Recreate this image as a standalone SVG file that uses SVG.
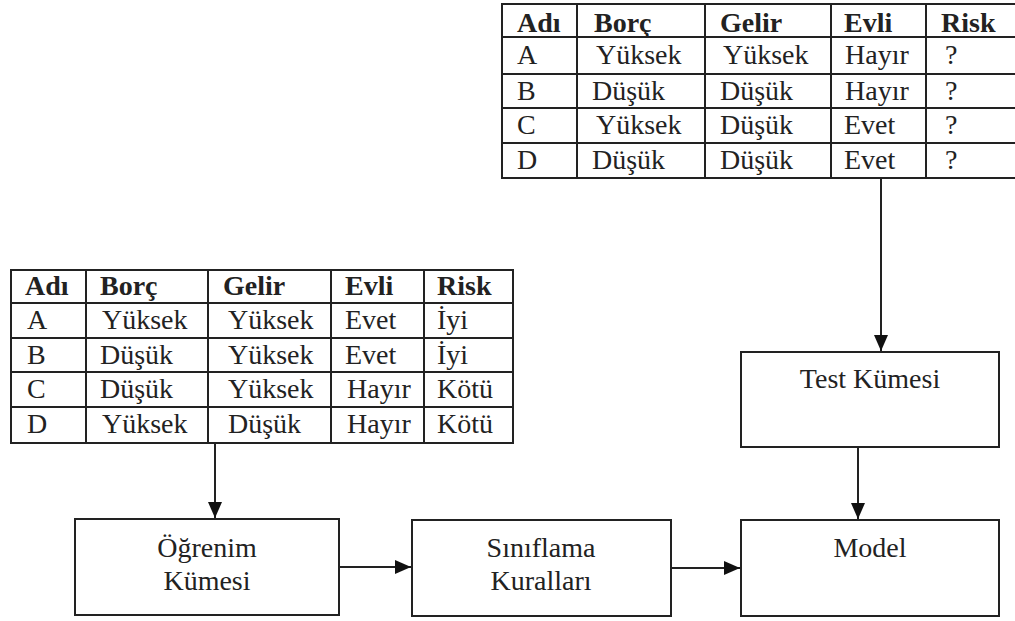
<svg xmlns="http://www.w3.org/2000/svg" width="1015" height="621" viewBox="0 0 1015 621">
<defs>
<style>
.t{font-family:"Liberation Serif","Times New Roman",serif;font-size:28px;fill:#222}
.h{font-weight:bold}
.c{text-anchor:middle}
.ln{stroke:#222;stroke-width:2;fill:none}
.box{stroke:#222;stroke-width:2;fill:#fff}
</style>
<marker id="ah" markerUnits="userSpaceOnUse" markerWidth="16" markerHeight="14" viewBox="0 0 16 14" refX="16" refY="7" orient="auto">
<path d="M0,0 L16,7 L0,14 Z" fill="#111"/>
</marker>
</defs>
<rect width="1015" height="621" fill="#fff"/>

<g id="test-table">
<rect class="ln" x="502" y="4" width="520" height="174"/>
<path class="ln" d="M577,4V178M705,4V178M831,4V178M926,4V178M502,37H1022M502,74H1022M502,108H1022M502,143H1022"/>
<g class="t h">
<text x="517" y="32">Adı</text><text x="594" y="32">Borç</text><text x="720" y="32">Gelir</text><text x="844" y="32">Evli</text><text x="941" y="32">Risk</text>
</g>
<g class="t">
<text x="517" y="64">A</text><text x="596" y="64">Yüksek</text><text x="723" y="64">Yüksek</text><text x="845" y="64">Hayır</text><text x="945" y="64">?</text>
<text x="517" y="100">B</text><text x="592" y="100">Düşük</text><text x="720" y="100">Düşük</text><text x="845" y="100">Hayır</text><text x="945" y="100">?</text>
<text x="517" y="134">C</text><text x="596" y="134">Yüksek</text><text x="720" y="134">Düşük</text><text x="844" y="134">Evet</text><text x="945" y="134">?</text>
<text x="517" y="169">D</text><text x="592" y="169">Düşük</text><text x="720" y="169">Düşük</text><text x="844" y="169">Evet</text><text x="945" y="169">?</text>
</g>
</g>

<g id="training-table">
<rect class="ln" x="11" y="270" width="502" height="173"/>
<path class="ln" d="M86,270V443M208,270V443M331,270V443M424,270V443M11,303H513M11,338H513M11,372H513M11,407H513"/>
<g class="t h">
<text x="25" y="295">Adı</text><text x="100" y="295">Borç</text><text x="223" y="295">Gelir</text><text x="345" y="295">Evli</text><text x="437" y="295">Risk</text>
</g>
<g class="t">
<text x="27" y="329">A</text><text x="102" y="329">Yüksek</text><text x="228" y="329">Yüksek</text><text x="345" y="329">Evet</text><text x="437" y="329">İyi</text>
<text x="27" y="364">B</text><text x="100" y="364">Düşük</text><text x="228" y="364">Yüksek</text><text x="345" y="364">Evet</text><text x="437" y="364">İyi</text>
<text x="27" y="398">C</text><text x="100" y="398">Düşük</text><text x="228" y="398">Yüksek</text><text x="347" y="398">Hayır</text><text x="437" y="398">Kötü</text>
<text x="27" y="433">D</text><text x="102" y="433">Yüksek</text><text x="228" y="433">Düşük</text><text x="347" y="433">Hayır</text><text x="437" y="433">Kötü</text>
</g>
</g>

<g id="ogrenim">
<rect class="box" x="75" y="519" width="264" height="96"/>
<text class="t c" x="207" y="557">Öğrenim</text>
<text class="t c" x="207" y="590">Kümesi</text>
</g>
<g id="siniflama">
<rect class="box" x="412" y="520" width="259" height="96"/>
<text class="t c" x="541" y="557">Sınıflama</text>
<text class="t c" x="541" y="590">Kuralları</text>
</g>
<g id="model">
<rect class="box" x="741" y="520" width="258" height="96"/>
<text class="t c" x="870" y="557">Model</text>
</g>
<g id="test-kumesi">
<rect class="box" x="741" y="352" width="258" height="95"/>
<text class="t c" x="870" y="388">Test Kümesi</text>
</g>

<g id="connectors">
<line class="ln" x1="215" y1="443" x2="215" y2="518" marker-end="url(#ah)"/>
<line class="ln" x1="339" y1="567" x2="411" y2="567" marker-end="url(#ah)"/>
<line class="ln" x1="671" y1="568" x2="740" y2="568" marker-end="url(#ah)"/>
<line class="ln" x1="858" y1="447" x2="858" y2="519" marker-end="url(#ah)"/>
<line class="ln" x1="881" y1="178" x2="881" y2="351" marker-end="url(#ah)"/>
</g>
</svg>
